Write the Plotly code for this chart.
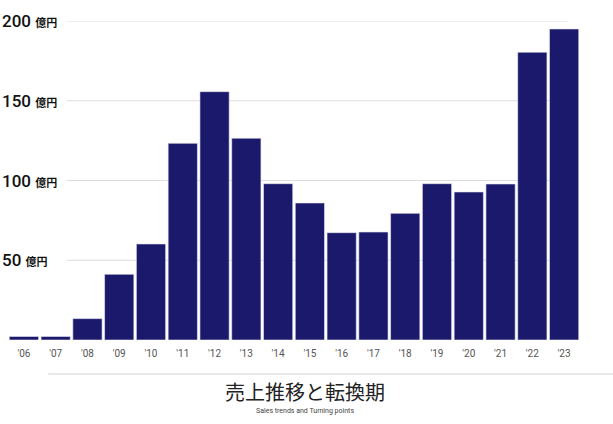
import plotly.graph_objects as go

# fiscal years and sales (億円)
years = ["'06", "'07", "'08", "'09", "'10", "'11", "'12", "'13", "'14",
         "'15", "'16", "'17", "'18", "'19", "'20", "'21", "'22", "'23"]
sales = [2.2, 2.2, 13.4, 41.2, 60.2, 123.3, 155.7, 126.5, 98,
         85.9, 67.3, 67.7, 79.4, 98, 92.8, 97.8, 180.4, 195]
grid_values = [50, 100, 150, 200]

title_text = "売上推移と転換期"
subtitle_text = "Sales trends and Turning points"

navy = "#1a196c"

fig = go.Figure()
fig.add_trace(go.Bar(
    x=years,
    y=sales,
    marker=dict(color=navy, line=dict(color="#e8e8f0", width=0.6)),
    hoverinfo="x+y",
))

# plot area is 8..580 px wide, 21..340 px tall
for v in grid_values:
    fig.add_shape(type="line", xref="paper", yref="y",
                  x0=0.103, x1=0.979, y0=v, y1=v,
                  line=dict(color="#dcdcdc", width=1), layer="below")
    label = ("%d <span style='font-size:11px'><b>億円</b></span>" % v)
    fig.add_annotation(xref="paper", yref="y", x=-0.014, y=v,
                       xanchor="left", yanchor="middle", showarrow=False,
                       text=label,
                       font=dict(family="Roboto, Noto Sans CJK JP", size=17,
                                 color="#111", weight=500))

# separator under the axis
fig.add_shape(type="line", xref="paper", yref="paper",
              x0=0.07, x1=1.06, y0=-0.1066, y1=-0.1066,
              line=dict(color="#e2e2e2", width=1.5))

fig.add_annotation(xref="paper", yref="paper", x=0.519, y=-0.16,
                   xanchor="center", yanchor="middle", showarrow=False,
                   text=title_text,
                   font=dict(family="Noto Sans CJK JP", size=20, color="#222"))
fig.add_annotation(xref="paper", yref="paper", x=0.519, y=-0.2226,
                   xanchor="center", yanchor="middle", showarrow=False,
                   text=subtitle_text,
                   font=dict(family="Roboto", size=7, color="#444"))

fig.update_layout(
    width=613, height=424,
    margin=dict(l=8, r=33, t=21, b=84),
    paper_bgcolor="white", plot_bgcolor="white",
    bargap=0.08,
    showlegend=False,
    xaxis=dict(showgrid=False, showline=False, zeroline=False, ticks="",
               ticklabelstandoff=6,
               tickfont=dict(family="Roboto", size=10, color="#555"),
               fixedrange=True),
    yaxis=dict(range=[0, 200], showgrid=False, showticklabels=False,
               zeroline=False, showline=False, fixedrange=True),
)

# drop the browser's default body margin so the figure sits at 0,0
fig.write_html("out.html", config={"displayModeBar": False},
               post_script="document.body.style.margin='0';")
